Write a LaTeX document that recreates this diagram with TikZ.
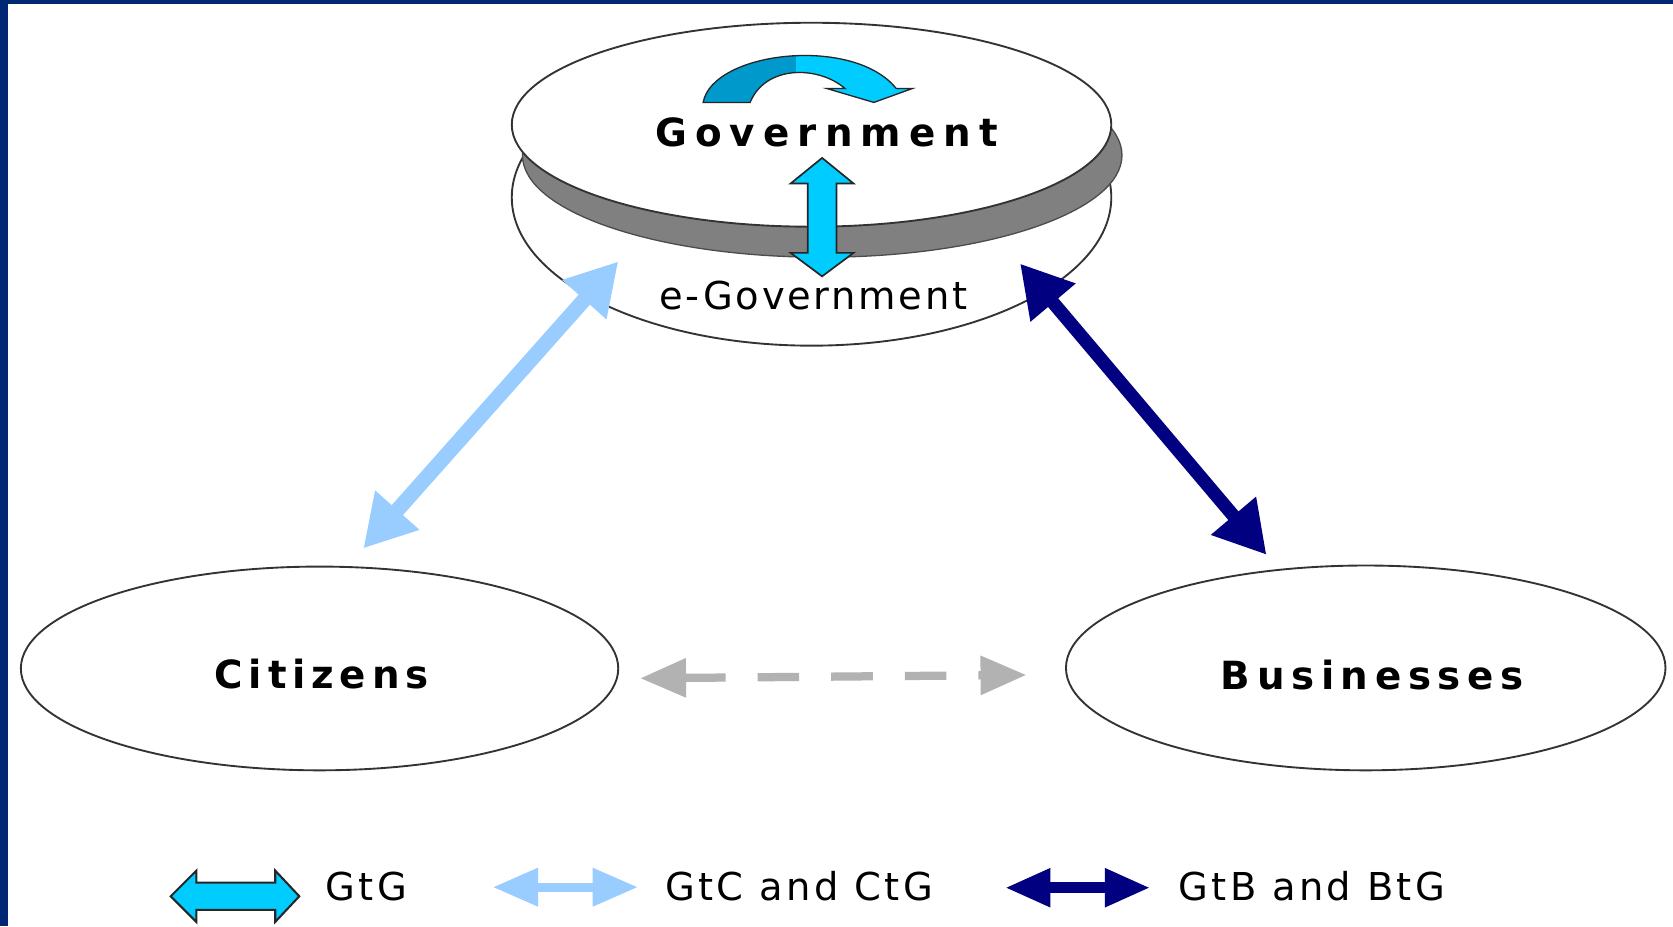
\documentclass[tikz,border=0pt]{standalone}
\usepackage{fontspec}
\setmainfont{DejaVu Sans}
\newfontfamily\govfont{DejaVu Sans}[LetterSpace=21]
\newfontfamily\cizfont{DejaVu Sans}[LetterSpace=15]
\newfontfamily\busfont{DejaVu Sans}[LetterSpace=17]
\newfontfamily\egovfont{DejaVu Sans}[LetterSpace=7]
\newfontfamily\legfont{DejaVu Sans}[LetterSpace=9]
\usetikzlibrary{shapes.geometric,arrows.meta}
\definecolor{frameblue}{RGB}{0,38,116}
\definecolor{cyanA}{RGB}{0,204,255}
\definecolor{cyanD}{RGB}{0,153,204}
\definecolor{lightblue}{RGB}{153,204,255}
\definecolor{navyB}{RGB}{0,0,128}
\definecolor{dashgray}{RGB}{178,178,178}
\definecolor{shadowgray}{RGB}{128,128,128}
\tikzset{
  disk/.style={ellipse, draw=black!80, line width=1pt, fill=white, inner sep=0pt},
  bigtxt/.style={anchor=base west, inner sep=0pt},
  blockarrow/.style={fill=cyanA, draw=black!85, line width=0.9pt, line join=miter},
  bigtip/.tip={Triangle[length=0.96cm,width=1.04cm]},
  graytip/.tip={Triangle[length=0.86cm,width=0.7cm]},
  legtip/.tip={Triangle[length=0.85cm,width=0.68cm]},
}
\begin{document}
\begin{tikzpicture}[x=0.02cm,y=-0.02cm]
\useasboundingbox (0,0) rectangle (1568,868);
\fill[white] (0,0) rectangle (1568,868);
% frame
\fill[frameblue] (0,0) rectangle (1568,3.8);
\fill[frameblue] (0,0) rectangle (7.5,868);

% e-Government lower disk
\node[disk, minimum width=11.24cm, minimum height=5.56cm] (egov) at (760.6,185) {};
% shadow of the Government disk
\node[ellipse, fill=shadowgray, draw=black!70, line width=0.7pt, inner sep=0pt,
      minimum width=11.24cm, minimum height=3.824cm] (govshadow) at (770.6,145.5) {};
% Government upper disk
\node[disk, minimum width=11.24cm, minimum height=3.824cm] (gov) at (760.6,116.9) {};

% curved arrow on the Government disk
\begin{scope}
\path[fill=cyanA] (659,96) .. controls (668,48) and (800,33) .. (840,83)
  -- (855,83) -- (819,96) -- (775,83) -- (792,83)
  .. controls (768,62) and (718,60) .. (703,96) -- cycle;
\clip (600,0) rectangle (746,120);
\path[fill=cyanD] (659,96) .. controls (668,48) and (800,33) .. (840,83)
  -- (855,83) -- (819,96) -- (775,83) -- (792,83)
  .. controls (768,62) and (718,60) .. (703,96) -- cycle;
\end{scope}
\draw[black!85, line width=0.7pt, line join=miter] (659,96) .. controls (668,48) and (800,33) .. (840,83)
  -- (855,83) -- (819,96) -- (775,83) -- (792,83)
  .. controls (768,62) and (718,60) .. (703,96) -- cycle;

\node[bigtxt] (govtxt) at (613.6,137.5)
  {\govfont\bfseries\fontsize{20.7pt}{24pt}\selectfont Government};

% vertical GtG arrow between the two levels
\draw[blockarrow] (770.5,148) -- (800,172) -- (784,172) -- (784,237) -- (800,237)
  -- (770.5,259) -- (741,237) -- (757,237) -- (757,172) -- (741,172) -- cycle;

\node[bigtxt] (egovtxt) at (617.5,290.5)
  {\egovfont\fontsize{20.5pt}{24pt}\selectfont e-Government};

% citizens and businesses
\node[disk, minimum width=11.2cm, minimum height=3.82cm] (citizens) at (299.5,626.5) {};
\node[disk, minimum width=11.24cm, minimum height=3.84cm] (businesses) at (1280,626) {};
\node[bigtxt] (citxt) at (200.8,645)
  {\cizfont\bfseries\fontsize{20.7pt}{24pt}\selectfont Citizens};
\node[bigtxt] (bustxt) at (1144,646)
  {\busfont\bfseries\fontsize{20.7pt}{24pt}\selectfont Businesses};

% connectors
\coordinate (gtcG) at (579.5,245);
\coordinate (gtcC) at (340.5,514);
\coordinate (gtbG) at (956,247);
\coordinate (gtbB) at (1187,520);
\coordinate (cbC) at (600,635.7);
\coordinate (cbB) at (962,632.6);
\draw[lightblue, line width=8pt, {bigtip}-{bigtip}] (gtcG) -- (gtcC);
\draw[navyB, line width=7.1pt, {bigtip}-{bigtip}] (gtbG) -- (gtbB);
\draw[dashgray, line width=4.4pt, dash pattern=on 0.78cm off 0.6cm, {graytip}-{graytip}] (cbC) -- (cbB);

% legend
\draw[blockarrow, line width=1.1pt] (160,840) -- (184,816) -- (184,827.3) -- (258,827.3) -- (258,816)
  -- (280.5,840) -- (258,864) -- (258,852.7) -- (184,852.7) -- (184,864) -- cycle;
\node[bigtxt] (leg1) at (304.6,844) {\legfont\fontsize{20.5pt}{24pt}\selectfont GtG};
\coordinate (l2a) at (461.8,831.5);
\coordinate (l2b) at (598,831.5);
\draw[lightblue, line width=4.8pt, {legtip}-{legtip}] (l2a) -- (l2b);
\node[bigtxt] (leg2) at (623,844) {\legfont\fontsize{20.5pt}{24pt}\selectfont GtC and CtG};
\coordinate (l3a) at (942,832);
\coordinate (l3b) at (1078,832);
\draw[navyB, line width=5.6pt, {legtip}-{legtip}] (l3a) -- (l3b);
\node[bigtxt] (leg3) at (1104,844) {\legfont\fontsize{20.5pt}{24pt}\selectfont GtB and BtG};
\end{tikzpicture}
\end{document}
